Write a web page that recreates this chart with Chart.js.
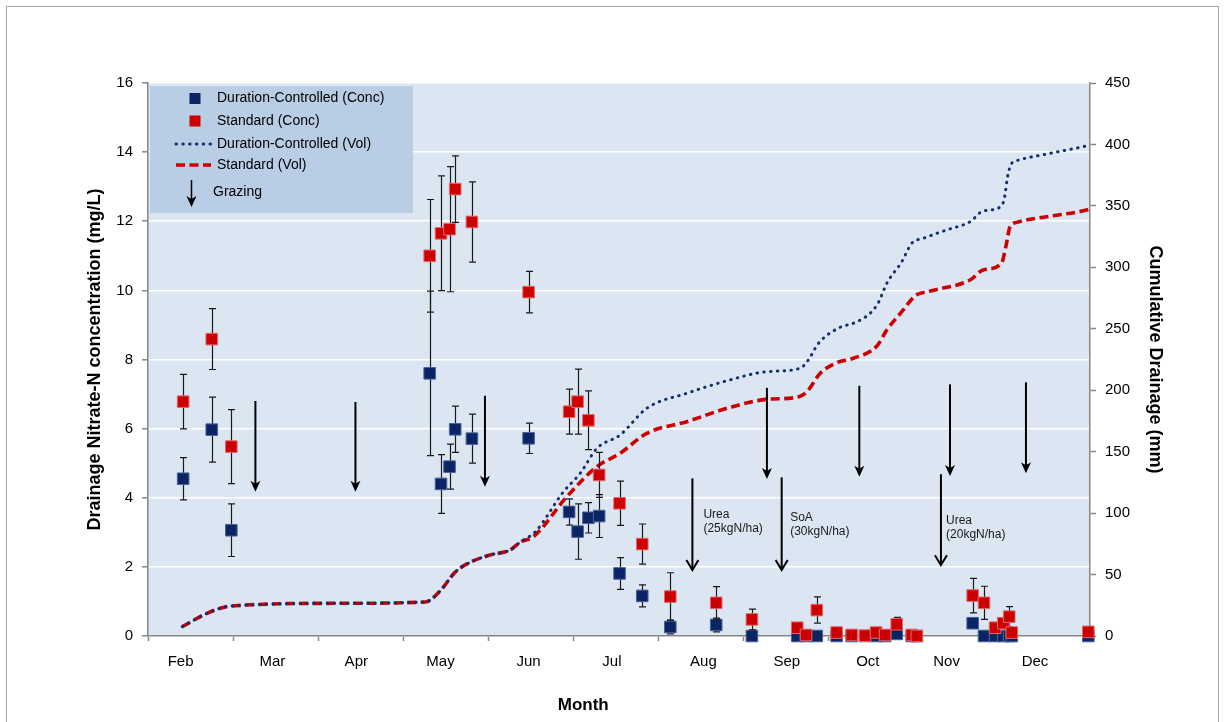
<!DOCTYPE html>
<html>
<head>
<meta charset="utf-8">
<title>Drainage nitrate-N and cumulative drainage</title>
<script src="https://cdn.jsdelivr.net/npm/chart.js@4.4.1/dist/chart.umd.min.js"></script>
<style>
  html, body { margin: 0; padding: 0; background: #fff; overflow: hidden; }
  #c { display: block; }
</style>
</head>
<body>
<canvas id="c" width="1226" height="722"></canvas>
<script>
// ---- x axis: days from the start of the axis ----
const AXIS_END = 332.4;
const tickDays = [0, 30, 60, 90, 120, 150, 180, 210, 240, 270, 300, 330];
const monthLabels = ['Feb', 'Mar', 'Apr', 'May', 'Jun', 'Jul', 'Aug', 'Sep', 'Oct', 'Nov', 'Dec'];
const monthLabelDays = [11.5, 43.9, 73.5, 103.2, 134.3, 163.7, 196.0, 225.4, 254.0, 281.8, 313.0];

// ---- drainage sampling: nitrate-N concentration (mg/L) with standard errors ----
const sampleDays = [12.4, 22.5, 29.4, 99.4, 103.4, 106.4, 108.4, 114.3, 134.3, 148.6, 151.6, 155.4,
  159.2, 166.4, 174.4, 184.3, 200.5, 213.1, 229.1, 232.2, 236.0, 243.0, 248.3, 253.0,
  256.9, 260.1, 264.2, 269.5, 271.3, 291.0, 295.0, 298.9, 301.8, 303.9, 304.8, 331.8];
const dcConc = [4.55, 5.97, 3.06, 7.60, 4.40, 4.90, 5.98, 5.71, 5.72, 3.59, 3.02, 3.42,
  3.47, 1.81, 1.16, 0.26, 0.32, 0, 0, 0, 0, 0, 0, 0,
  0, 0, 0.06, 0, 0, 0.37, 0, 0, 0, 0, 0, 0];
const dcConcSE = [0.61, 0.94, 0.76, 2.38, 0.85, 0.65, 0.67, 0.71, 0.44, 0.38, 0.80, 0.44,
  0.62, 0.46, 0.32, 0.20, 0.20, 0, 0, 0, 0, 0, 0, 0,
  0, 0, 0.10, 0, 0, 0.15, 0, 0, 0, 0, 0, 0];
const stdConc = [6.78, 8.59, 5.48, 11.00, 11.65, 11.77, 12.93, 11.98, 9.95, 6.49, 6.78, 6.24,
  4.66, 3.84, 2.66, 1.14, 0.96, 0.48, 0.24, 0.03, 0.75, 0.10, 0.03, 0.01,
  0.10, 0.03, 0.34, 0.03, 0.00, 1.17, 0.96, 0.24, 0.37, 0.56, 0.10, 0.12];
const stdConcSE = [0.79, 0.88, 1.07, 1.63, 1.66, 1.81, 0.96, 1.16, 0.60, 0.65, 0.94, 0.85,
  0.65, 0.64, 0.58, 0.69, 0.47, 0.30, 0.10, 0, 0.38, 0, 0, 0,
  0, 0, 0.20, 0, 0, 0.50, 0.48, 0, 0, 0.29, 0, 0];

// ---- cumulative drainage (mm) ----
const dcVolDays = [12.1, 20.9, 29.1, 67.9, 97.9, 103.2, 108.4, 113.7, 120.8, 127.8, 131.4, 136.7,
  146.6, 152.5, 158.4, 166.6, 176.0, 190.1, 204.3, 218.4, 230.1, 233.0, 236.6, 244.2,
  248.9, 254.8, 257.7, 260.7, 266.0, 269.5, 273.6, 281.8, 290.1, 294.7, 301.2, 302.4,
  303.3, 304.8, 306.5, 317.1, 331.0, 332.4];
const dcVol = [7.6, 18.5, 24.4, 26.6, 27.7, 37, 52, 60, 66, 70, 76.5, 84.9,
  117.4, 132.4, 152.7, 163.6, 185.3, 197.5, 207.7, 215.1, 217.8, 224.6, 238.2, 251.2,
  254.5, 262.6, 271.2, 287.0, 304.6, 319.6, 323.6, 330.4, 337.1, 345.8, 349.9, 358.9,
  373.8, 384.7, 386.8, 392.2, 398.7, 399.5];
const stdVolDays = [12.1, 20.9, 29.1, 67.9, 97.9, 103.2, 108.4, 113.7, 120.8, 127.8, 131.4, 136.0,
  147.8, 158.4, 166.6, 176.0, 190.1, 204.3, 218.4, 228.9, 232.5, 237.2, 243.0, 248.9,
  257.2, 260.7, 266.5, 270.7, 276.0, 290.1, 294.7, 301.2, 302.7, 304.2, 306.5, 317.1,
  331.2, 332.4];
const stdVol = [7.6, 18.5, 24.4, 26.6, 27.7, 37, 52, 60, 66, 70, 76.5, 80.8,
  113.4, 137.8, 148.7, 164.9, 174.4, 185.3, 192.6, 194.2, 198.8, 213.8, 222.4, 226.0,
  236.0, 249.0, 265.3, 276.9, 280.7, 289.7, 297.8, 303.3, 316.8, 333.1, 336.6, 341.2,
  346.6, 347.5];

// ---- management events (arrows span concentration units) ----
const grazingEvents = [
  { day: 37.9, from: 6.80, to: 4.17 },
  { day: 73.2, from: 6.77, to: 4.17 },
  { day: 118.9, from: 6.95, to: 4.32 },
  { day: 218.4, from: 7.18, to: 4.54 },
  { day: 251.0, from: 7.24, to: 4.61 },
  { day: 283.0, from: 7.28, to: 4.63 },
  { day: 309.8, from: 7.34, to: 4.71 }
];
const fertiliserEvents = [
  { day: 192.1, from: 4.56, to: 1.91, text: ['Urea', '(25kgN/ha)'], textDay: 196.0, textAt: 3.50 },
  { day: 223.6, from: 4.59, to: 1.91, text: ['SoA', '(30kgN/ha)'], textDay: 226.6, textAt: 3.41 },
  { day: 279.8, from: 4.68, to: 2.05, text: ['Urea', '(20kgN/ha)'], textDay: 281.6, textAt: 3.33 }
];

const NAVY = '#0b2463';
const RED = '#cc0000';
const AXIS_GREY = '#868686';
const FONT = '"Liberation Sans", Arial, Helvetica, sans-serif';

Chart.defaults.font.family = FONT;
Chart.defaults.color = '#000';

const pts = (xs, ys) => xs.map((x, i) => ({ x: x, y: ys[i] }));

// Plot background and outer frame
const backdrop = {
  id: 'backdrop',
  beforeDraw(chart) {
    const { ctx, chartArea: a } = chart;
    ctx.save();
    ctx.fillStyle = '#fff';
    ctx.fillRect(0, 0, chart.width, chart.height);
    ctx.strokeStyle = '#a6a6a6';
    ctx.lineWidth = 1;
    ctx.strokeRect(6.5, 6.5, 1212, 800);
    ctx.fillStyle = '#dce6f2';
    ctx.fillRect(a.left, a.top, a.right - a.left, a.bottom - a.top);
    ctx.restore();
  }
};

// Vertical standard-error bars, drawn just beneath each marker series
const errorBars = {
  id: 'errorBars',
  beforeDatasetDraw(chart, args) {
    const ds = chart.data.datasets[args.index];
    if (!ds.errors) return;
    const xs = chart.scales[args.meta.xAxisID];
    const ys = chart.scales[args.meta.yAxisID];
    const ctx = chart.ctx;
    ctx.save();
    ctx.strokeStyle = '#1a1a1a';
    ctx.lineWidth = 1.2;
    ds.data.forEach((p, i) => {
      const e = ds.errors[i];
      if (!e) return;
      const x = Math.round(xs.getPixelForValue(p.x)) + 0.5;
      const yt = ys.getPixelForValue(p.y + e);
      const yb = ys.getPixelForValue(p.y - e);
      ctx.beginPath();
      ctx.moveTo(x, yt); ctx.lineTo(x, yb);
      ctx.moveTo(x - 3.5, yt); ctx.lineTo(x + 3.5, yt);
      ctx.moveTo(x - 3.5, yb); ctx.lineTo(x + 3.5, yb);
      ctx.stroke();
    });
    ctx.restore();
  }
};

function filledHead(ctx, x, y) {
  ctx.beginPath();
  ctx.moveTo(x, y);
  ctx.lineTo(x - 5, y - 11);
  ctx.lineTo(x, y - 8);
  ctx.lineTo(x + 5, y - 11);
  ctx.closePath();
  ctx.fill();
}
function openHead(ctx, x, y) {
  ctx.beginPath();
  ctx.moveTo(x - 6, y - 10);
  ctx.lineTo(x, y);
  ctx.lineTo(x + 6, y - 10);
  ctx.stroke();
}

// Grazing and fertiliser arrows with their notes
const events = {
  id: 'events',
  afterDatasetsDraw(chart) {
    const ctx = chart.ctx;
    const xs = chart.scales.x, ys = chart.scales.y;
    ctx.save();
    ctx.strokeStyle = '#000';
    ctx.fillStyle = '#000';
    ctx.lineWidth = 2;
    grazingEvents.forEach(g => {
      const x = xs.getPixelForValue(g.day);
      const y0 = ys.getPixelForValue(g.from), y1 = ys.getPixelForValue(g.to);
      ctx.beginPath(); ctx.moveTo(x, y0); ctx.lineTo(x, y1 - 7); ctx.stroke();
      filledHead(ctx, x, y1);
    });
    ctx.font = '12px ' + FONT;
    ctx.textAlign = 'left';
    ctx.textBaseline = 'middle';
    fertiliserEvents.forEach(f => {
      const x = xs.getPixelForValue(f.day);
      const y0 = ys.getPixelForValue(f.from), y1 = ys.getPixelForValue(f.to);
      ctx.beginPath(); ctx.moveTo(x, y0); ctx.lineTo(x, y1); ctx.stroke();
      openHead(ctx, x, y1);
      const tx = xs.getPixelForValue(f.textDay);
      const ty = ys.getPixelForValue(f.textAt);
      ctx.fillStyle = '#1a1a1a';
      f.text.forEach((line, k) => ctx.fillText(line, tx, ty + k * 14));
      ctx.fillStyle = '#000';
    });
    ctx.restore();
  }
};

// Legend panel in the upper-left of the plot, plus the "Month" axis title
const legendPanel = {
  id: 'legendPanel',
  afterDraw(chart) {
    const { ctx, chartArea: a } = chart;
    const ds = chart.data.datasets;
    const bx = a.left + 2, by = a.top + 3;
    ctx.save();
    ctx.fillStyle = '#b9cde5';
    ctx.fillRect(bx, by, 263, 127);
    ctx.font = '14px ' + FONT;
    ctx.textBaseline = 'middle';
    ctx.textAlign = 'left';
    const tx = bx + 67, mx = bx + 45;
    const rows = [by + 12.5, by + 35, by + 58, by + 79];
    // marker rows
    [ds[0], ds[1]].forEach((d, k) => {
      ctx.fillStyle = d.backgroundColor;
      ctx.fillRect(mx - 5.5, rows[k] - 5.5, 11, 11);
      ctx.fillStyle = '#000';
      ctx.fillText(d.label, tx, rows[k]);
    });
    // line rows
    [ds[2], ds[3]].forEach((d, k) => {
      const y = rows[k + 2];
      ctx.save();
      ctx.strokeStyle = d.borderColor;
      ctx.lineWidth = d.borderWidth;
      ctx.lineCap = d.borderCapStyle || 'butt';
      ctx.setLineDash(d.borderDash);
      ctx.beginPath(); ctx.moveTo(bx + 26, y); ctx.lineTo(bx + 61, y); ctx.stroke();
      ctx.restore();
      ctx.fillStyle = '#000';
      ctx.fillText(d.label, tx, y);
    });
    // grazing row
    ctx.strokeStyle = '#000';
    ctx.fillStyle = '#000';
    ctx.lineWidth = 1.5;
    const gx = bx + 41.5;
    ctx.beginPath(); ctx.moveTo(gx, by + 94); ctx.lineTo(gx, by + 115); ctx.stroke();
    filledHead(ctx, gx, by + 121);
    ctx.fillText('Grazing', bx + 63, by + 106);
    // x-axis title
    ctx.font = 'bold 17px ' + FONT;
    ctx.textAlign = 'center';
    ctx.fillText('Month', a.left + (a.right - a.left) * 0.462, 705);
    ctx.restore();
  }
};

new Chart(document.getElementById('c'), {
  type: 'scatter',
  data: {
    datasets: [
      {
        label: 'Duration-Controlled (Conc)',
        data: pts(sampleDays, dcConc),
        errors: dcConcSE,
        xAxisID: 'x', yAxisID: 'y',
        pointStyle: 'rect', pointRadius: 8.2, pointHoverRadius: 8.2,
        backgroundColor: NAVY, borderColor: '#4a649a', borderWidth: 1,
        clip: false, order: 1
      },
      {
        label: 'Standard (Conc)',
        data: pts(sampleDays, stdConc),
        errors: stdConcSE,
        xAxisID: 'x', yAxisID: 'y',
        pointStyle: 'rect', pointRadius: 8.2, pointHoverRadius: 8.2,
        backgroundColor: RED, borderColor: '#e06a6a', borderWidth: 1,
        clip: false, order: 0
      },
      {
        type: 'line',
        label: 'Duration-Controlled (Vol)',
        data: pts(dcVolDays, dcVol),
        xAxisID: 'x', yAxisID: 'y2',
        showLine: true, pointRadius: 0,
        borderColor: '#13306e', borderWidth: 3,
        borderDash: [0.5, 6.3], borderCapStyle: 'round',
        cubicInterpolationMode: 'monotone', fill: false, order: 2
      },
      {
        type: 'line',
        label: 'Standard (Vol)',
        data: pts(stdVolDays, stdVol),
        xAxisID: 'x', yAxisID: 'y2',
        showLine: true, pointRadius: 0,
        borderColor: RED, borderWidth: 3.6,
        borderDash: [9, 4.5], borderCapStyle: 'butt',
        cubicInterpolationMode: 'monotone', fill: false, order: 3
      }
    ]
  },
  options: {
    responsive: false,
    animation: false,
    devicePixelRatio: 1,
    layout: { padding: { top: 83, left: 0, right: 0, bottom: 0 } },
    plugins: { legend: { display: false }, tooltip: { enabled: false } },
    scales: {
      x: {
        type: 'linear', position: 'bottom', weight: 0,
        min: 0, max: AXIS_END,
        afterBuildTicks: s => { s.ticks = tickDays.map(v => ({ value: v })); },
        ticks: { display: false },
        grid: { drawOnChartArea: false, tickLength: 5, tickColor: AXIS_GREY, tickWidth: 1.5 },
        border: { color: AXIS_GREY, width: 1.5 },
        afterFit: s => { s.height = 5; }
      },
      xm: {
        type: 'linear', position: 'bottom', weight: 1,
        min: 0, max: AXIS_END,
        afterBuildTicks: s => { s.ticks = monthLabelDays.map(v => ({ value: v })); },
        ticks: {
          callback: (v, i) => monthLabels[i],
          autoSkip: false, maxRotation: 0,
          font: { size: 15 }, color: '#000', padding: 12
        },
        grid: { display: false, drawTicks: false },
        border: { display: false },
        afterFit: s => { s.height = 81; }
      },
      y: {
        position: 'left', min: 0, max: 16,
        ticks: { stepSize: 2, font: { size: 15 }, color: '#000', padding: 9 },
        grid: { color: '#ffffff', lineWidth: 1.6, tickColor: AXIS_GREY, tickLength: 6, tickWidth: 1.5 },
        border: { color: AXIS_GREY, width: 1.5 },
        title: {
          display: true, text: 'Drainage Nitrate-N concentration (mg/L)',
          font: { size: 18, weight: 'bold' }, color: '#000', padding: { top: 84, bottom: 0 }
        },
        afterFit: s => { s.width = 148; }
      },
      y2: {
        position: 'right', min: 0, max: 450,
        ticks: { stepSize: 50, font: { size: 15 }, color: '#000', padding: 9 },
        grid: { drawOnChartArea: false, tickColor: AXIS_GREY, tickLength: 6, tickWidth: 1.5 },
        border: { color: AXIS_GREY, width: 1.5 },
        title: {
          display: true, text: 'Cumulative Drainage (mm)',
          font: { size: 18, weight: 'bold' }, color: '#000', padding: { top: 60, bottom: 0 }
        },
        afterFit: s => { s.width = 136; }
      }
    }
  },
  plugins: [backdrop, errorBars, events, legendPanel]
});
</script>
</body>
</html>
